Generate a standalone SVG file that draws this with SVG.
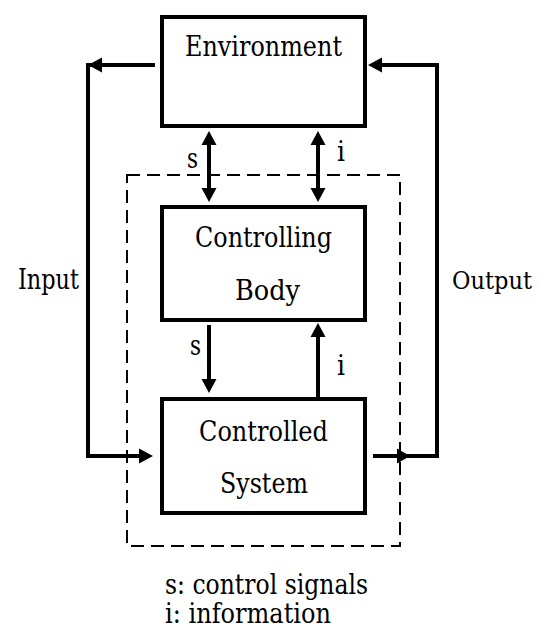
<svg xmlns="http://www.w3.org/2000/svg" width="541" height="633" viewBox="0 0 541 633">
<style>
.box{fill:#fff;stroke:#000;stroke-width:4}
.ln{fill:none;stroke:#000;stroke-width:4}
.dash{fill:none;stroke:#000;stroke-width:2;stroke-dasharray:13 7}
.ah{fill:#000}
.t{font-family:'DejaVu Serif','Liberation Serif','Times New Roman',serif;font-size:27px;fill:#000}
.c{text-anchor:middle}
</style>
<rect width="541" height="633" fill="#fff"/>
<rect class="dash" x="127" y="175" width="273" height="371"/>
<g id="connectors">
<path class="ln" d="M155,65 H88 V456 H140"/>
<polygon class="ah" points="88,65 102,57.5 102,72.5"/>
<polygon class="ah" points="153,456 139,448.5 139,463.5"/>
<path class="ln" d="M373,456 H437 V65 H380"/>
<polygon class="ah" points="368,65 382,57.5 382,72.5"/>
<polygon class="ah" points="410,456 397,448.5 397,463.5"/>
<line class="ln" x1="209" y1="142" x2="209" y2="192"/>
<polygon class="ah" points="209,131 201.5,145 216.5,145"/>
<polygon class="ah" points="209,202 201.5,188 216.5,188"/>
<line class="ln" x1="318" y1="142" x2="318" y2="192"/>
<polygon class="ah" points="318,131 310.5,145 325.5,145"/>
<polygon class="ah" points="318,202 310.5,188 325.5,188"/>
<line class="ln" x1="209" y1="325" x2="209" y2="382"/>
<polygon class="ah" points="209,393 201.5,379 216.5,379"/>
<line class="ln" x1="318" y1="397" x2="318" y2="334"/>
<polygon class="ah" points="318,323 310.5,337 325.5,337"/>
<text class="t" x="187" y="168" textLength="11" lengthAdjust="spacingAndGlyphs">s</text>
<text class="t" x="337" y="161" textLength="8" lengthAdjust="spacingAndGlyphs">i</text>
<text class="t" x="190" y="355" textLength="11" lengthAdjust="spacingAndGlyphs">s</text>
<text class="t" x="337" y="375" textLength="8" lengthAdjust="spacingAndGlyphs">i</text>
<text class="t" x="18" y="289" textLength="61" lengthAdjust="spacingAndGlyphs">Input</text>
<text class="t" x="452" y="289" font-size="24.5" style="font-size:24.5px" textLength="80" lengthAdjust="spacingAndGlyphs">Output</text>
</g>
<g id="environment">
<rect class="box" x="162" y="17" width="203" height="109"/>
<text class="t c" x="263.5" y="56" textLength="157" lengthAdjust="spacingAndGlyphs">Environment</text>
</g>
<g id="controlling-body">
<rect class="box" x="162" y="207" width="203" height="113"/>
<text class="t c" x="263.5" y="247" textLength="137" lengthAdjust="spacingAndGlyphs">Controlling</text>
<text class="t c" x="267.5" y="300" textLength="65" lengthAdjust="spacingAndGlyphs">Body</text>
</g>
<g id="controlled-system">
<rect class="box" x="162" y="399" width="203" height="114"/>
<text class="t c" x="263.5" y="441" textLength="129" lengthAdjust="spacingAndGlyphs">Controlled</text>
<text class="t c" x="264" y="493" textLength="88" lengthAdjust="spacingAndGlyphs">System</text>
</g>
<g id="legend">
<text class="t" x="165" y="594" textLength="203" lengthAdjust="spacingAndGlyphs">s: control signals</text>
<text class="t" x="165" y="623" textLength="166" lengthAdjust="spacingAndGlyphs">i: information</text>
</g>
</svg>
